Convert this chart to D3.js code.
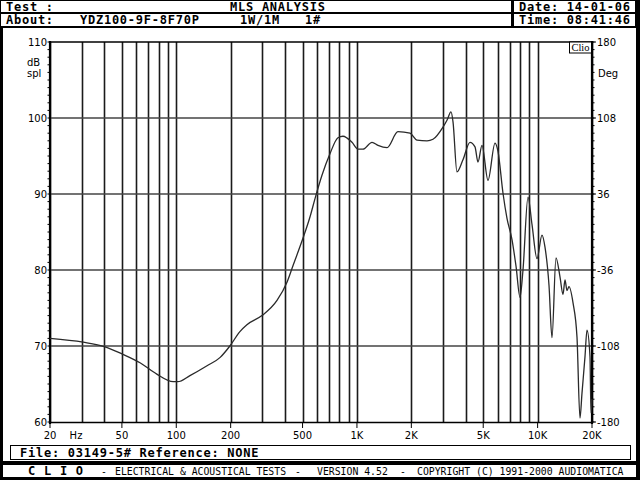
<!DOCTYPE html>
<html><head><meta charset="utf-8">
<script src="https://cdn.jsdelivr.net/npm/d3@7"></script>
<style>
html,body{margin:0;padding:0;background:#fff;}
svg{display:block;}
.mono{font-family:"DejaVu Sans Mono",monospace;font-weight:bold;font-size:12px;letter-spacing:0.75px;fill:#000;}
.foot{font-family:"DejaVu Sans Mono",monospace;font-size:9.8px;fill:#000;}
.ax{font-family:"DejaVu Sans",sans-serif;font-size:10px;fill:#000;}
</style></head>
<body>
<script>
// ---- data ----
const freqHz = [20,30.5,40.3,50.7,63,78,96,102,119,148,175,198,225,246,298,361,410,443,503,550,586,641,709,785,837,939,1013,1080,1212,1308,1467,1687,1966,2150,2442,2636,2994,3150,3316,3402,3578,3862,4224,4502,4677,4922,5314,5810,6036,6433,6768,7214,7593,7990,8300,8846,9308,9922,10574,10986,11561,12010,12640,13300,13820,14176,14540,14916,15696,16516,17160,17606,18292,18766,19496,19740,20000];
const splDb = [71.0,70.5,69.9,68.9,67.8,66.3,65.3,65.3,66.1,67.4,68.5,70.0,71.9,72.8,74.0,76.0,78.4,80.6,84.2,87.0,89.4,92.5,95.3,97.4,97.6,96.8,95.9,95.9,96.8,96.4,96.1,98.2,98.0,97.1,97.0,97.2,98.8,99.7,100.8,99.5,92.9,94.5,96.8,96.2,94.2,96.4,91.8,96.7,95.6,90.1,86.8,84.0,80.5,76.4,80.0,89.6,86.0,81.5,84.6,83.0,78.0,71.1,81.6,79.1,76.8,78.7,77.3,77.8,75.7,71.2,60.5,63.8,68.6,72.1,68.6,61.2,63.0];
const xTickValues = [20,50,100,200,500,1000,2000,5000,10000,20000];
const xTickLabels = ["20","50","100","200","500","1K","2K","5K","10K","20K"];
const yTickValues = [60,70,80,90,100,110];
const degTickValues = [-180,-108,-36,36,108,180];

// ---- drawing ----
const W=640,H=480;
const svg=d3.select("body").append("svg").attr("width",W).attr("height",H);
svg.append("rect").attr("width",W).attr("height",H).attr("fill","#000");
svg.append("rect").attr("x",3).attr("y",28).attr("width",633).attr("height",433).attr("fill","#fff");
svg.append("rect").attr("x",1).attr("y",1).attr("width",510).attr("height",11).attr("fill","#fff");
svg.append("rect").attr("x",1).attr("y",14).attr("width",510).attr("height",12).attr("fill","#fff");
svg.append("rect").attr("x",514).attr("y",1).attr("width",121).attr("height",11).attr("fill","#fff");
svg.append("rect").attr("x",514).attr("y",14).attr("width",121).attr("height",12).attr("fill","#fff");
svg.append("rect").attr("x",3).attr("y",465).attr("width",633).attr("height",12).attr("fill","#fff");

function t(x,y,s,cls,anchor){svg.append("text").attr("x",x).attr("y",y).attr("class",cls).attr("text-anchor",anchor||"start").text(s);}
t(6,11,"Test :","mono");
t(230,11,"MLS ANALYSIS","mono");
t(6,24,"About:","mono");
t(80,24,"YDZ100-9F-8F70P","mono");
t(240,24,"1W/1M","mono");
t(305,24,"1#","mono");
t(519,11,"Date: 14-01-06","mono");
t(519,24,"Time: 08:41:46","mono");

svg.append("rect").attr("x",10.5).attr("y",445.5).attr("width",620).attr("height",14).attr("fill","#fff").attr("stroke","#000").attr("stroke-width",1);
t(20,457,"File: 03149-5# Reference: NONE","mono");
t(28,475,"C L I O","mono");
t(101,475,"-","foot");
t(115,475,"ELECTRICAL & ACOUSTICAL TESTS","foot");
t(295,475,"-","foot");
t(317,475,"VERSION 4.52","foot");
t(400,475,"-","foot");
t(417,475,"COPYRIGHT (C) 1991-2000 AUDIOMATICA","foot");

const x=d3.scaleLog().domain([20,20000]).range([50,592]);
const y=d3.scaleLinear().domain([60,110]).range([422,42]);
const yDeg=d3.scaleLinear().domain([-180,180]).range([422,42]);

const plot=svg.append("g");
plot.selectAll(".vg").data(x.ticks()).join("line")
  .attr("x1",d=>Math.round(x(d))+0.5).attr("x2",d=>Math.round(x(d))+0.5)
  .attr("y1",42).attr("y2",422).attr("stroke","#1a1a1a").attr("stroke-width",1.6);
plot.selectAll(".hg").data(yTickValues.slice(1,-1)).join("line")
  .attr("x1",50).attr("x2",592).attr("y1",d=>y(d)).attr("y2",d=>y(d))
  .attr("stroke","#444").attr("stroke-width",1.5);
plot.append("line").attr("x1",50).attr("x2",592).attr("y1",42).attr("y2",42).attr("stroke","#000").attr("stroke-width",1.5);
plot.append("line").attr("x1",50).attr("x2",592).attr("y1",422.5).attr("y2",422.5).attr("stroke","#000").attr("stroke-width",1.5);
plot.append("line").attr("x1",50).attr("x2",50).attr("y1",41).attr("y2",424).attr("stroke","#000").attr("stroke-width",2.2);
plot.append("line").attr("x1",592).attr("x2",592).attr("y1",41).attr("y2",424).attr("stroke","#000").attr("stroke-width",2.2);
const minor=d3.range(60,111,1);
plot.selectAll(".ml").data(minor).join("line").attr("x1",47.5).attr("x2",50).attr("y1",d=>y(d)).attr("y2",d=>y(d)).attr("stroke","#000").attr("stroke-width",1);
plot.selectAll(".mr").data(minor).join("line").attr("x1",592).attr("x2",594.5).attr("y1",d=>y(d)).attr("y2",d=>y(d)).attr("stroke","#000").attr("stroke-width",1);

const line=d3.line().x((d,i)=>x(freqHz[i])).y(d=>y(d)).curve(d3.curveMonotoneX);
plot.append("path").attr("d",line(splDb)).attr("fill","none").attr("stroke","#2a2a2a").attr("stroke-width",1.3);

svg.append("rect").attr("x",569.5).attr("y",42).attr("width",22).attr("height",11).attr("fill","#fff").attr("stroke","#000").attr("stroke-width",1);
svg.append("text").attr("x",580.5).attr("y",51).attr("text-anchor","middle").attr("font-family","Liberation Serif,serif").attr("font-size",10.5).text("Clio");

yTickValues.forEach(v=>t(47,y(v)+4,String(v),"ax","end"));
t(27,66,"dB","ax");
t(27,77,"spl","ax");
degTickValues.forEach(v=>{
  svg.append("line").attr("x1",592).attr("x2",596).attr("y1",yDeg(v)).attr("y2",yDeg(v)).attr("stroke","#000");
  t(597,yDeg(v)+4,String(v),"ax");
});
t(598,77,"Deg","ax");
xTickValues.forEach((v,i)=>{
  svg.append("line").attr("x1",x(v)).attr("x2",x(v)).attr("y1",423).attr("y2",428).attr("stroke","#000").attr("stroke-width",1);
  t(x(v),439,xTickLabels[i],"ax","middle");
});
t(76,439,"Hz","ax","middle");
</script>
</body></html>
